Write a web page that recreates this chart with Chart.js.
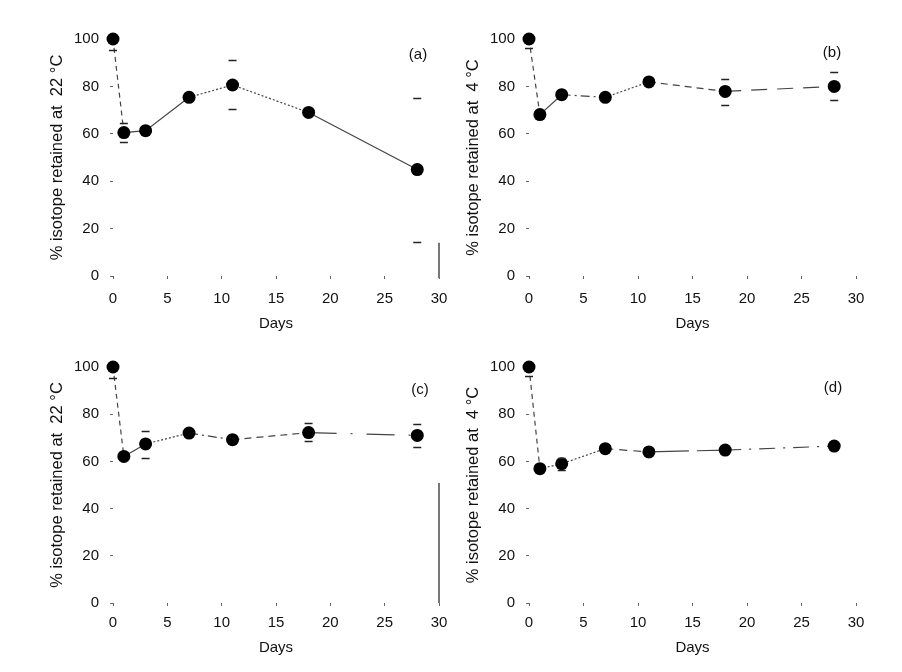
<!DOCTYPE html>
<html>
<head>
<meta charset="utf-8">
<script src="https://cdn.jsdelivr.net/npm/chart.js@4/dist/chart.umd.min.js"></script>
<style>
  body { margin: 0; background: #fff; }
  #wrap { position: relative; width: 902px; height: 672px; }
  canvas { position: absolute; }
</style>
</head>
<body>
<div id="wrap">
  <canvas id="chartB" width="451" height="336" style="left:451px;top:0"></canvas>
  <canvas id="chartD" width="451" height="336" style="left:451px;top:336px"></canvas>
  <canvas id="chartA" width="461" height="336" style="left:0;top:0"></canvas>
  <canvas id="chartC" width="461" height="336" style="left:0;top:336px"></canvas>
</div>
<script>
// sampling days
const days = [0, 1, 3, 7, 11, 18, 28];

// % isotope retained, one array per panel
const retainedA = [100, 60.5, 61.3, 75.4, 80.6, 69.0, 44.9];
const retainedB = [100, 68.1, 76.5, 75.4, 81.9, 77.9, 80.0];
const retainedC = [100, 62.1, 67.4, 72.0, 69.2, 72.2, 71.0];
const retainedD = [100, 56.9, 59.0, 65.4, 64.0, 64.8, 66.5];

// visible error bar caps (upper / lower), null where none shows
const errHighA = [null, 64.7, null, null, 91.0, null, 75.2];
const errLowA  = [95.5, 56.7, null, null, 70.3, null, 14.5];
const errHighB = [null, null, null, null, null, 83.3, 86.0];
const errLowB  = [96.0, null, null, null, null, 72.0, 74.3];
const errHighC = [null, null, 73.0, null, null, 76.3, 75.7];
const errLowC  = [95.5, null, 61.4, null, null, 68.5, 66.1];
const errHighD = [null, null, 61.5, null, null, null, null];
const errLowD  = [96.0, null, 56.5, null, null, null, null];

// stray vertical strokes at day 30 in panels (a) and (c)
const strayA = [-1, 14];
const strayC = [0, 50.8];

const panelLabels = ['(a)', '(b)', '(c)', '(d)'];
const yTitles = ['% isotope retained at  22 °C', '% isotope retained at  4 °C',
                 '% isotope retained at  22 °C', '% isotope retained at  4 °C'];

const FONT = '"Liberation Sans", Arial, sans-serif';

// line style of each segment between consecutive points
const dashesA = [[5, 4], [], [], [2, 2], [2, 2], []];
const dashesB = [[5, 4], [], [9, 4, 2, 4], [2, 2], [7, 5], [16, 10]];
const dashesC = [[5, 4], [], [2, 2], [9, 4, 2, 4], [7, 5], [28, 14, 2, 14]];
const dashesD = [[5, 4], [2, 2], [2, 2], [8, 6], [40, 8], [16, 8, 2, 8]];

const extras = {
    id: 'extras',
    afterDatasetsDraw(chart, args, opts) {
        const { ctx, chartArea } = chart;
        const x = chart.scales.x, y = chart.scales.y;
        ctx.save();
        ctx.strokeStyle = '#222';
        ctx.lineWidth = 1.5;
        const cap = (d, v) => {
            const px = x.getPixelForValue(d), py = Math.round(y.getPixelForValue(v)) + 0.5;
            ctx.beginPath();
            ctx.moveTo(px - 4, py);
            ctx.lineTo(px + 4, py);
            ctx.stroke();
        };
        opts.hi.forEach((v, i) => { if (v != null) cap(days[i], v); });
        opts.lo.forEach((v, i) => { if (v != null) cap(days[i], v); });
        ctx.fillStyle = '#111';
        ctx.font = '15px ' + FONT;
        ctx.textAlign = 'center';
        ctx.textBaseline = 'middle';
        ctx.fillText(opts.label, chartArea.right - opts.dx, chartArea.top + opts.dy);
        ctx.restore();
    }
};

function makePanel(id, values, dashes, hi, lo, stray, idx, geo) {
    const datasets = [{
        data: days.map((d, i) => ({ x: d, y: values[i] })),
        borderColor: '#444',
        borderWidth: 1.2,
        pointRadius: 6.5,
        pointBackgroundColor: '#000',
        pointBorderWidth: 0,
        clip: false,
        segment: {
            borderDash: c => dashes[c.p0DataIndex]
        }
    }];
    if (stray) {
        datasets.push({
            data: stray.map(v => ({ x: 30, y: v })),
            borderColor: '#777',
            borderWidth: 2,
            pointRadius: 0,
            clip: false
        });
    }
    return new Chart(document.getElementById(id), {
        type: 'line',
        data: { datasets: datasets },
        plugins: [extras],
        options: {
            responsive: false,
            animation: false,
            devicePixelRatio: 1,
            layout: { padding: { top: geo.top, right: geo.right, left: 0, bottom: 0 } },
            plugins: {
                legend: { display: false },
                tooltip: { enabled: false },
                extras: { hi: hi, lo: lo, label: panelLabels[idx], dx: geo.dx, dy: geo.dy }
            },
            scales: {
                x: {
                    type: 'linear',
                    min: 0, max: 30,
                    border: { display: false },
                    grid: { drawOnChartArea: false, drawTicks: true, tickLength: 3, color: '#666' },
                    ticks: { stepSize: 5, padding: geo.xTickPad, color: '#111', font: { family: FONT, size: 15 } },
                    title: { display: true, text: 'Days', color: '#111', font: { family: FONT, size: 15 },
                             padding: { top: 0, bottom: geo.xTitlePad } },
                    afterFit(s) { s.height = geo.xHeight; }
                },
                y: {
                    min: 0, max: 100,
                    border: { display: false },
                    grid: { drawOnChartArea: false, drawTicks: true, tickLength: 3, color: '#666' },
                    ticks: { stepSize: 20, padding: 11, color: '#111', font: { family: FONT, size: 15 } },
                    title: { display: true, text: yTitles[idx], color: '#111', font: { family: FONT, size: 16.5 },
                             padding: { top: geo.yTitlePad, bottom: 0 } },
                    afterFit(s) { s.width = geo.yWidth; }
                }
            }
        }
    });
}

makePanel('chartA', retainedA, dashesA, errHighA, errLowA, strayA, 0,
    { top: 39, right: 22, xHeight: 60, yWidth: 113, xTickPad: 11, xTitlePad: 3, yTitlePad: 48, dx: 21, dy: 16 });
makePanel('chartB', retainedB, dashesB, errHighB, errLowB, null, 1,
    { top: 39, right: 46, xHeight: 60, yWidth: 78, xTickPad: 11, xTitlePad: 3, yTitlePad: 13, dx: 24, dy: 14 });
makePanel('chartC', retainedC, dashesC, errHighC, errLowC, strayC, 2,
    { top: 31, right: 22, xHeight: 69, yWidth: 113, xTickPad: 8, xTitlePad: 15, yTitlePad: 48, dx: 19, dy: 23 });
makePanel('chartD', retainedD, dashesD, errHighD, errLowD, null, 3,
    { top: 31, right: 46, xHeight: 69, yWidth: 78, xTickPad: 8, xTitlePad: 15, yTitlePad: 13, dx: 23, dy: 21 });
</script>
</body>
</html>
